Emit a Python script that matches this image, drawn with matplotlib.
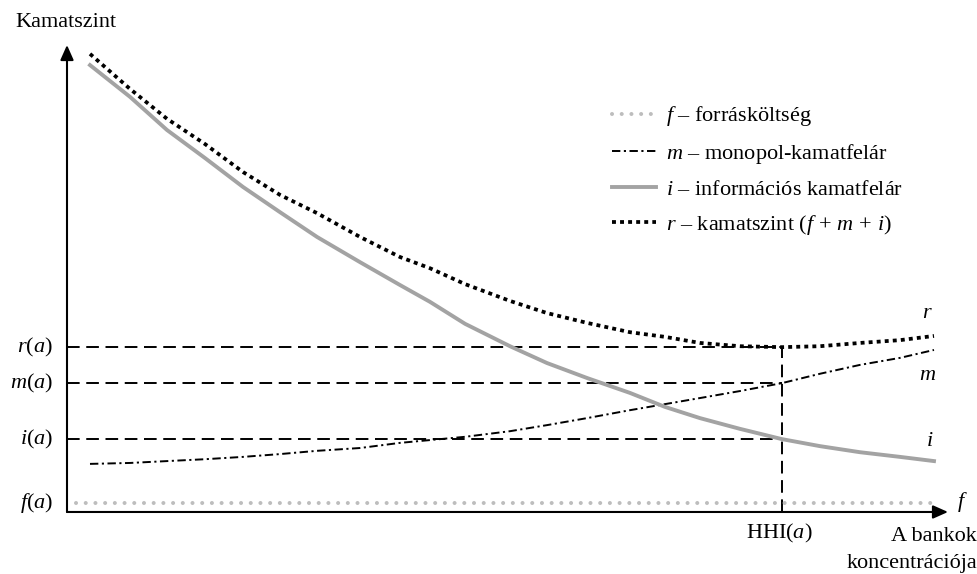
import matplotlib
matplotlib.use("Agg")
import matplotlib.pyplot as plt

# koncentráció (HHI) tengely pontjai
hhi = [2.61, 7.15, 11.35, 15.66, 19.98, 24.18, 28.38, 33.26, 37.80, 41.20, 45.18, 50.28,
       54.48, 59.02, 63.90, 67.88, 71.85, 76.39, 81.16, 85.47, 90.01, 94.55, 98.41]
# információs kamatfelár
i_vals = [95.7, 88.9, 81.8, 75.8, 69.6, 64.2, 58.9, 53.5, 48.6, 45.0, 40.3, 35.5,
          31.9, 28.7, 25.5, 22.5, 20.1, 17.8, 15.6, 14.1, 12.8, 11.8, 10.9]
# monopol-kamatfelár
m_vals = [10.3, 10.5, 10.9, 11.3, 11.8, 12.4, 13.1, 13.7, 14.8, 15.4, 16.1, 17.3,
          18.6, 20.1, 21.8, 23.1, 24.4, 25.9, 27.6, 29.6, 31.5, 33.0, 34.7]
# kamatszint
r_vals = [98.1, 90.6, 84.2, 78.8, 72.8, 67.9, 64.0, 58.9, 54.6, 52.2, 48.8, 45.2,
          42.6, 40.5, 38.5, 37.5, 36.2, 35.5, 35.3, 35.5, 36.2, 36.8, 37.7]
# forrásköltség
f_x = [1.0, 98.4]
f_vals = [1.9, 1.9]

hhi_a = 81.16
level_labels = [r"$r(a)$", r"$m(a)$", r"$i(a)$", r"$f(a)$"]
level_vals = [35.3, 27.6, 15.6, 1.9]

plt.rcParams['font.family'] = ['Liberation Serif', 'DejaVu Serif']
plt.rcParams['mathtext.fontset'] = 'custom'
plt.rcParams['mathtext.rm'] = 'Liberation Serif'
plt.rcParams['mathtext.it'] = 'Liberation Serif:italic'

fig = plt.figure(figsize=(9.78, 5.74), dpi=100)
ax = fig.add_axes([0, 0, 1, 1])
ax.set_xlim(-7.605, 103.405)
ax.set_ylim(-13.28, 109.64)
ax.axis('off')

FS = 16

# segédvonalak
for v in level_vals[:3]:
    ax.plot([0, hhi_a], [v, v], color='black', lw=1.4, ls=(0, (6.5, 3.4)))
ax.plot([hhi_a, hhi_a], [0, level_vals[0]], color='black', lw=1.4, ls=(0, (6.5, 3.4)))

# görbék
ax.plot(f_x, f_vals, color='#bdbdbd', lw=2.9, ls=(0, (0.01, 2.4)),
        solid_capstyle='round', dash_capstyle='round', label=r"$f$ – forrásköltség")
ax.plot(hhi, m_vals, color='black', lw=1.4, ls=(0, (4.3, 1.8, 1.1, 1.8)),
        label=r"$m$ – monopol-kamatfelár")
ax.plot(hhi, i_vals, color='#a3a3a3', lw=2.8, label=r"$i$ – információs kamatfelár")
ax.plot(hhi, r_vals, color='black', lw=2.7, ls=(0, (1.05, 1.1)),
        label=r"$r$ – kamatszint $(f\,+\,m\,+\,i)$")

# tengelyek nyíllal
arrow = dict(arrowstyle='-|>,head_length=0.45,head_width=0.2', lw=1.5, color='black',
             mutation_scale=20, shrinkA=0, shrinkB=0)
ax.annotate('', xy=(0, 100), xytext=(0, 0), arrowprops=arrow)
ax.annotate('', xy=(100, 0), xytext=(0, 0), arrowprops=arrow)

# feliratok
ax.text(-5.9, 104.9, "Kamatszint", fontsize=FS, ha='left', va='center')
for lab, v in zip(level_labels, level_vals):
    ax.text(-1.6, v, lab, fontsize=FS, ha='right', va='center')
ax.text(80.9, -4.5, r"HHI$(a)$", fontsize=FS, ha='center', va='center')
ax.text(103.3, -8.2, "A bankok\nkoncentrációja", fontsize=FS, ha='right', va='center',
        multialignment='right', linespacing=1.55)
ax.text(101.6, 2.1, r"$f$", fontsize=FS, ha='center', va='center')
ax.text(97.7, 42.6, r"$r$", fontsize=FS, ha='center', va='center')
ax.text(97.7, 29.3, r"$m$", fontsize=FS, ha='center', va='center')
ax.text(97.9, 15.0, r"$i$", fontsize=FS, ha='center', va='center')

ax.legend(loc='upper left', bbox_to_anchor=(0.626, 0.818), frameon=False,
          fontsize=FS, handlelength=1.95, handletextpad=0.45, labelspacing=0.6,
          borderpad=0, borderaxespad=0)

fig.savefig("out.png", dpi=100)
